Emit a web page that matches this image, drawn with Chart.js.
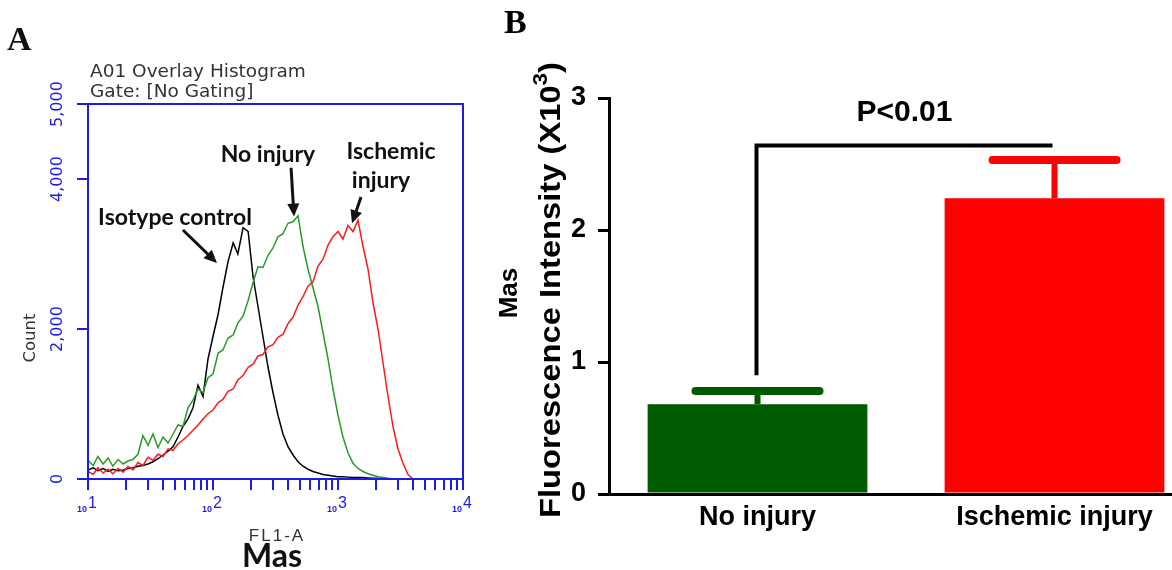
<!DOCTYPE html>
<html>
<head>
<meta charset="utf-8">
<script src="https://cdn.jsdelivr.net/npm/chart.js@4.4.1/dist/chart.umd.min.js"></script>
<style>
  body { margin: 0; overflow: hidden; background: #fff; width: 1172px; height: 570px; position: relative; }
  #histA { position: absolute; left: 0; top: 0; }
  #barB { position: absolute; left: 480px; top: 0; }
</style>
</head>
<body>
<canvas id="histA" width="480" height="570"></canvas>
<canvas id="barB" width="760" height="570"></canvas>
<script>
// ---- panel A: FL1-A overlay histogram ----
const fl1Bins = [10, 11.0, 12.0, 13.2, 14.5, 15.8, 17.4, 19.1, 20.9, 22.9, 25.1, 27.5,
  30.2, 33.1, 36.3, 39.8, 43.7, 47.9, 52.5, 57.5, 63.1, 69.2, 75.9, 83.2, 91.2,
  100, 110, 120, 132, 145, 158, 174, 191, 209, 229, 251, 275,
  302, 331, 363, 398, 437, 479, 525, 575, 631, 692, 759, 832, 912,
  1000, 1096, 1202, 1318, 1445, 1585, 1738, 1905, 2089, 2291,
  2512, 2754, 3020, 3311, 3631, 3981, 4365, 4786, 5248, 5754, 6310, 6918, 7586, 8318, 9120, 10000];

const isotypeCounts = [120, 150, 110, 140, 100, 130, 110, 120, 140, 150, 170, 180,
  200, 230, 270, 320, 370, 430, 560, 700, 800, 950, 1250, 1100, 1600,
  1900, 2200, 2550, 2900, 3150, 3000, 3350, 3300, 2700, 2300, 1900, 1500,
  1150, 850, 600, 430, 320, 230, 170, 130, 100, 80, 60, 50, 40,
  30, 30, 25, 20, 20, 20, 15, 10, 10, 5,
  0, 0, 0, 0, 0, 0, 0, 0, 0, 0, 0, 0, 0, 0, 0, 0];

const noInjuryCounts = [250, 180, 300, 200, 280, 170, 260, 200, 240, 260, 330, 580,
  450, 600, 420, 560, 480, 600, 720, 700, 950, 1050, 1200, 1150, 1350,
  1400, 1680, 1720, 1880, 1920, 2080, 2170, 2380, 2620, 2830, 2820, 2980,
  3080, 3230, 3270, 3410, 3430, 3510, 3100, 2800, 2550, 2300, 1950, 1600, 1200,
  850, 560, 350, 210, 140, 100, 70, 50, 30, 20,
  10, 5, 0, 0, 0, 0, 0, 0, 0, 0, 0, 0, 0, 0, 0, 0];

const ischemicCounts = [100, 60, 150, 80, 130, 70, 140, 90, 170, 120, 220, 180,
  290, 250, 330, 300, 400, 380, 470, 520, 580, 650, 720, 800, 870,
  920, 1020, 1060, 1170, 1200, 1320, 1380, 1490, 1530, 1640, 1660, 1760,
  1790, 1890, 1930, 2070, 2160, 2320, 2430, 2570, 2630, 2840, 2930, 3120, 3230,
  3300, 3200, 3380, 3300, 3450, 3100, 2800, 2350, 2000, 1550,
  1100, 700, 400, 210, 60, 0, 0, 0, 0, 0, 0, 0, 0, 0, 0, 0];

const countTicks = [0, 2000, 4000, 5000];
const decadeTicks = [10, 100, 1000, 10000];

// ---- panel B: Mas fluorescence bars ----
const groups = ["No injury", "Ischemic injury"];
const masMeans = [0.68, 2.24];
const masSem = [0.10, 0.29];
const barTicks = [0, 1, 2, 3];

const BLUE = "#1c1ce6";
const SANS = '"Liberation Sans", Arial, sans-serif';
const WIDE = '"DejaVu Sans", Verdana, sans-serif';
const CAL = 'Lato, "Open Sans", sans-serif';

const toXY = (counts) => fl1Bins.map((b, i) => ({ x: b, y: counts[i] }));

// annotation positions in data units
const histNotes = [
  { text: "Isotype control", x: 49.7, y: 3490 },
  { text: "No injury", x: 275, y: 4330 },
  { text: "Ischemic", x: 2655, y: 4360 },
  { text: "injury", x: 2208, y: 3975 },
];
const histArrows = [
  { from: [57.5, 3320], to: [107.6, 2880] },
  { from: [421, 4150], to: [445, 3500] },
  { from: [1528, 3760], to: [1294, 3410] },
];

const drawArrow = (ctx, x0, y0, x1, y1) => {
  const ang = Math.atan2(y1 - y0, x1 - x0);
  const head = 13;
  ctx.beginPath();
  ctx.moveTo(x0, y0);
  ctx.lineTo(x1 - Math.cos(ang) * head * 0.8, y1 - Math.sin(ang) * head * 0.8);
  ctx.stroke();
  ctx.beginPath();
  ctx.moveTo(x1, y1);
  ctx.lineTo(x1 - head * Math.cos(ang) + 6 * Math.sin(ang), y1 - head * Math.sin(ang) - 6 * Math.cos(ang));
  ctx.lineTo(x1 - head * Math.cos(ang) - 6 * Math.sin(ang), y1 - head * Math.sin(ang) + 6 * Math.cos(ang));
  ctx.closePath();
  ctx.fill();
};

const histDecor = {
  id: "histDecor",
  afterDraw(chart) {
    const { ctx, chartArea: a, scales: { x, y } } = chart;
    ctx.save();
    ctx.strokeStyle = BLUE;
    ctx.lineWidth = 2;
    ctx.strokeRect(a.left, a.top, a.right - a.left, a.bottom - a.top);

    // count tick labels, rotated
    ctx.fillStyle = BLUE;
    ctx.font = "16px " + WIDE;
    ctx.textAlign = "center";
    ctx.textBaseline = "middle";
    countTicks.forEach((v) => {
      ctx.save();
      ctx.translate(58, y.getPixelForValue(v));
      ctx.rotate(-Math.PI / 2);
      ctx.fillText(v.toLocaleString("en-US"), 0, 0);
      ctx.restore();
    });

    // decade labels 10^n
    ctx.textBaseline = "alphabetic";
    decadeTicks.forEach((v) => {
      const px = x.getPixelForValue(v);
      ctx.font = "bold 9px " + SANS;
      ctx.textAlign = "right";
      ctx.fillText("10", px - 1, 512);
      ctx.font = "16px " + SANS;
      ctx.textAlign = "left";
      ctx.fillText(String(Math.round(Math.log10(v))), px, 508);
    });

    // header + axis titles
    ctx.fillStyle = "#333";
    ctx.font = "18.5px " + WIDE;
    ctx.fillText("A01 Overlay Histogram", 90, 77);
    ctx.fillText("Gate: [No Gating]", 90, 97);
    ctx.font = "16.5px " + WIDE;
    ctx.textAlign = "center";
    ctx.save();
    ctx.translate(35, 338);
    ctx.rotate(-Math.PI / 2);
    ctx.fillText("Count", 0, 0);
    ctx.restore();
    ctx.font = "17px " + SANS;
    ctx.letterSpacing = "2px";
    ctx.fillText("FL1-A", 277, 541);
    ctx.letterSpacing = "0px";
    ctx.fillStyle = "#111";
    ctx.font = "bold 32px " + CAL;
    ctx.fillText("Mas", 272, 567);

    ctx.font = "bold 34px \"Liberation Serif\", serif";
    ctx.textAlign = "left";
    ctx.fillText("A", 7, 50);

    // annotations
    ctx.fillStyle = "#111";
    ctx.strokeStyle = "#111";
    ctx.lineWidth = 3;
    ctx.font = "bold 23px " + CAL;
    ctx.textAlign = "center";
    ctx.textBaseline = "middle";
    histNotes.forEach((n) => ctx.fillText(n.text, x.getPixelForValue(n.x), y.getPixelForValue(n.y)));
    histArrows.forEach((ar) => drawArrow(ctx,
      x.getPixelForValue(ar.from[0]), y.getPixelForValue(ar.from[1]),
      x.getPixelForValue(ar.to[0]), y.getPixelForValue(ar.to[1])));
    ctx.restore();
  },
};

new Chart(document.getElementById("histA"), {
  type: "line",
  data: {
    datasets: [
      { label: "Ischemic injury", data: toXY(ischemicCounts), borderColor: "#ff1a1a" },
      { label: "No injury", data: toXY(noInjuryCounts), borderColor: "#279a27" },
      { label: "Isotype control", data: toXY(isotypeCounts), borderColor: "#000" },
    ],
  },
  options: {
    responsive: false,
    animation: false,
    layout: { padding: { top: 104, right: 17, left: 0, bottom: 0 } },
    elements: { point: { radius: 0 }, line: { borderWidth: 1.5, tension: 0 } },
    plugins: { legend: { display: false }, tooltip: { enabled: false } },
    scales: {
      x: {
        type: "logarithmic",
        min: 10,
        max: 10000,
        afterBuildTicks(scale) {
          const t = [];
          [10, 100, 1000].forEach((d) => {
            for (let k = 1; k < 10; k++) t.push({ value: d * k });
          });
          t.push({ value: 10000 });
          scale.ticks = t;
        },
        afterFit(scale) { scale.height = 91; },
        ticks: { display: false },
        grid: { drawOnChartArea: false, drawTicks: true, tickLength: 11, color: BLUE, lineWidth: 2 },
        border: { color: BLUE, width: 2 },
      },
      y: {
        min: 0,
        max: 5000,
        afterBuildTicks(scale) { scale.ticks = countTicks.map((v) => ({ value: v })); },
        afterFit(scale) { scale.width = 88; },
        ticks: { display: false },
        grid: { drawOnChartArea: false, drawTicks: true, tickLength: 11, color: BLUE, lineWidth: 2 },
        border: { color: BLUE, width: 2 },
      },
    },
  },
  plugins: [histDecor],
});

// ---- panel B ----
const barDecor = {
  id: "barDecor",
  afterDatasetsDraw(chart) {
    const { ctx, scales: { y } } = chart;
    const bars = chart.getDatasetMeta(0).data;
    const colors = chart.data.datasets[0].backgroundColor;
    ctx.save();
    // error bars (upper only)
    bars.forEach((b, i) => {
      const top = y.getPixelForValue(masMeans[i] + masSem[i]);
      ctx.strokeStyle = colors[i];
      ctx.lineWidth = 6;
      ctx.beginPath();
      ctx.moveTo(b.x, b.y);
      ctx.lineTo(b.x, top);
      ctx.stroke();
      ctx.lineWidth = 8;
      ctx.lineCap = "round";
      ctx.beginPath();
      ctx.moveTo(b.x - 62, top);
      ctx.lineTo(b.x + 62, top);
      ctx.stroke();
      ctx.lineCap = "butt";
    });
    // significance bracket
    const x0 = bars[0].x - 1;
    const x1 = bars[1].x - 2;
    const yb = y.getPixelForValue(0.9);
    const yt = y.getPixelForValue(2.64);
    ctx.strokeStyle = "#000";
    ctx.lineWidth = 4;
    ctx.beginPath();
    ctx.moveTo(x0, yb);
    ctx.lineTo(x0, yt);
    ctx.lineTo(x1, yt);
    ctx.stroke();
    ctx.fillStyle = "#000";
    ctx.font = "bold 30px " + SANS;
    ctx.textAlign = "center";
    ctx.textBaseline = "middle";
    ctx.fillText("P<0.01", (x0 + x1) / 2, y.getPixelForValue(2.89));

    // axis titles
    ctx.font = "bold 26px " + SANS;
    ctx.save();
    ctx.translate(30, 293);
    ctx.rotate(-Math.PI / 2);
    ctx.fillText("Mas", 0, 0);
    ctx.restore();

    ctx.save();
    ctx.translate(72, 290);
    ctx.rotate(-Math.PI / 2);
    ctx.font = "bold 29px " + SANS;
    const main = "Fluorescence Intensity (X10";
    const wMain = ctx.measureText(main).width;
    ctx.font = "bold 20px " + SANS;
    const wSup = ctx.measureText("3").width;
    ctx.font = "bold 29px " + SANS;
    const wEnd = ctx.measureText(")").width;
    const total = wMain + wSup + wEnd;
    ctx.scale(456 / total, 1);
    let cx = -total / 2;
    ctx.textAlign = "left";
    ctx.fillText(main, cx, 0);
    cx += wMain;
    ctx.font = "bold 20px " + SANS;
    ctx.fillText("3", cx, -11);
    cx += wSup;
    ctx.font = "bold 29px " + SANS;
    ctx.fillText(")", cx, 0);
    ctx.restore();

    ctx.font = "bold 34px \"Liberation Serif\", serif";
    ctx.textAlign = "left";
    ctx.textBaseline = "alphabetic";
    ctx.fillText("B", 24, 33);
    ctx.restore();
  },
};

new Chart(document.getElementById("barB"), {
  type: "bar",
  data: {
    labels: groups,
    datasets: [{
      data: masMeans,
      backgroundColor: ["#005a00", "#ff0000"],
      barPercentage: 0.74,
      categoryPercentage: 1,
    }],
  },
  options: {
    responsive: false,
    animation: false,
    layout: { padding: { top: 98, right: 37, left: 0, bottom: 0 } },
    plugins: { legend: { display: false }, tooltip: { enabled: false } },
    scales: {
      x: {
        afterFit(scale) { scale.height = 76; },
        ticks: { color: "#000", padding: 7, font: { family: SANS, size: 27, weight: "bold" } },
        grid: { display: false, drawTicks: false },
        border: { color: "#000", width: 3 },
      },
      y: {
        min: 0,
        max: 3,
        afterBuildTicks(scale) { scale.ticks = barTicks.map((v) => ({ value: v })); },
        afterFit(scale) { scale.width = 129; },
        ticks: { color: "#000", padding: 12, font: { family: SANS, size: 27, weight: "bold" } },
        grid: { drawOnChartArea: false, drawTicks: true, tickLength: 11, color: "#000", lineWidth: 3 },
        border: { color: "#000", width: 3 },
      },
    },
  },
  plugins: [barDecor],
});
</script>
</body>
</html>
